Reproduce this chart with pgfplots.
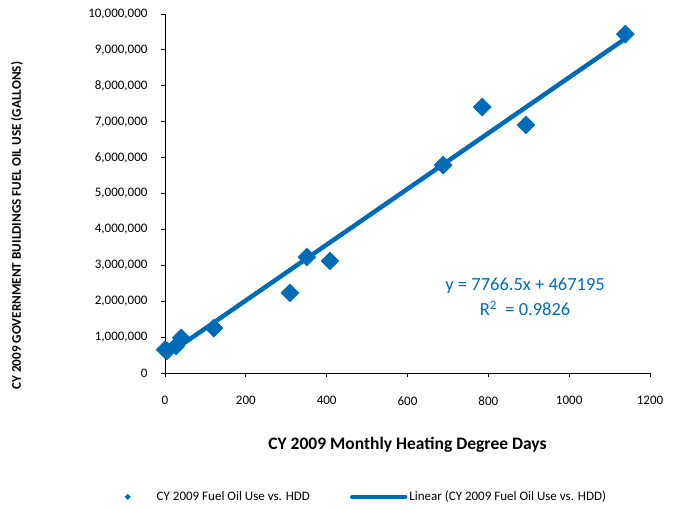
\documentclass[border=0pt]{standalone}
\usepackage{pgfplots}
\pgfplotsset{compat=1.18}
\usepackage{fontspec}
\setmainfont{Carlito}
\definecolor{xlblue}{RGB}{0,107,182}
\begin{document}
\begin{tikzpicture}[x=1pt,y=1pt]
\begin{axis}[
  at={(0,0)}, anchor=south west,
  scale only axis, width=485pt, height=359pt,
  xmin=0, xmax=1200, ymin=0, ymax=10000000,
  xtick={0,200,...,1200}, ytick={0,1000000,...,10000000},
  axis x line*=bottom, axis y line*=left,
  axis line style={black, line width=0.8pt, -},
  tick style={black, line width=0.8pt},
  tick align=outside, major tick length=4pt,
  x tick label style={yshift=-16pt},
  y tick label style={xshift=-10pt},
  ticklabel style={font=\fontsize{13}{14}\selectfont},
  /pgf/number format/assume math mode=true,
  scaled y ticks=false,
  yticklabel={\pgfmathprintnumber[fixed, 1000 sep={,}]{\tick}},
  xticklabel={\pgfmathprintnumber[fixed, 1000 sep={}]{\tick}},
  xlabel={\bfseries CY 2009 Monthly Heating Degree Days},
  xlabel style={font=\fontsize{17.5}{19}\selectfont, at={(axis description cs:0.5,-0.2)}, anchor=center},
  ylabel={\bfseries CY 2009 GOVERNMENT BUILDINGS FUEL OIL USE (GALLONS)},
  ylabel style={font=\fontsize{13.2}{14}\selectfont, at={(axis description cs:-0.305,0.41)}, anchor=center},
  legend style={at={(0.44,-0.345)}, anchor=center, draw=none, fill=none,
    legend columns=2, font=\fontsize{13}{14}\selectfont,
    /tikz/every even column/.append style={column sep=38pt}},
  legend cell align=left,
  clip=false,
]
\addplot[only marks, mark=square*, mark size=6.4pt, color=xlblue,
  mark options={rotate=45},
  legend image code/.code={\path[draw=none, fill=none] (0pt,-3pt) rectangle (6pt,3pt);
    \fill[xlblue, draw=none, overlay] (-21pt,0) ++(0,3pt) -- ++(3pt,-3pt) -- ++(-3pt,-3pt) -- ++(-3pt,3pt) -- cycle;}] coordinates {
  (0,650000) (5,620000) (27,750000) (40,980000) (121,1250000)
  (309,2230000) (351,3230000) (408,3120000) (688,5790000)
  (785,7410000) (893,6910000) (1139,9440000)
};
\addlegendentry{CY 2009 Fuel Oil Use vs. HDD}
\addplot[color=xlblue, line width=4.5pt,
  legend image code/.code={\draw[xlblue, line width=4.5pt, line cap=round] (0pt,0pt) -- (53pt,0pt);}] coordinates {
  (0,467195) (1140,9321005)
};
\addlegendentry{Linear (CY 2009 Fuel Oil Use vs. HDD)}
\node[color=xlblue, font=\fontsize{18.5}{25}\selectfont, align=center]
  at (axis cs:891,2120000) {y = 7766.5x + 467195\\R\textsuperscript{2} \ = 0.9826};
\end{axis}
\pgfresetboundingbox
\path (-165pt,-137pt) rectangle ++(680pt,510pt);
\end{tikzpicture}
\end{document}
